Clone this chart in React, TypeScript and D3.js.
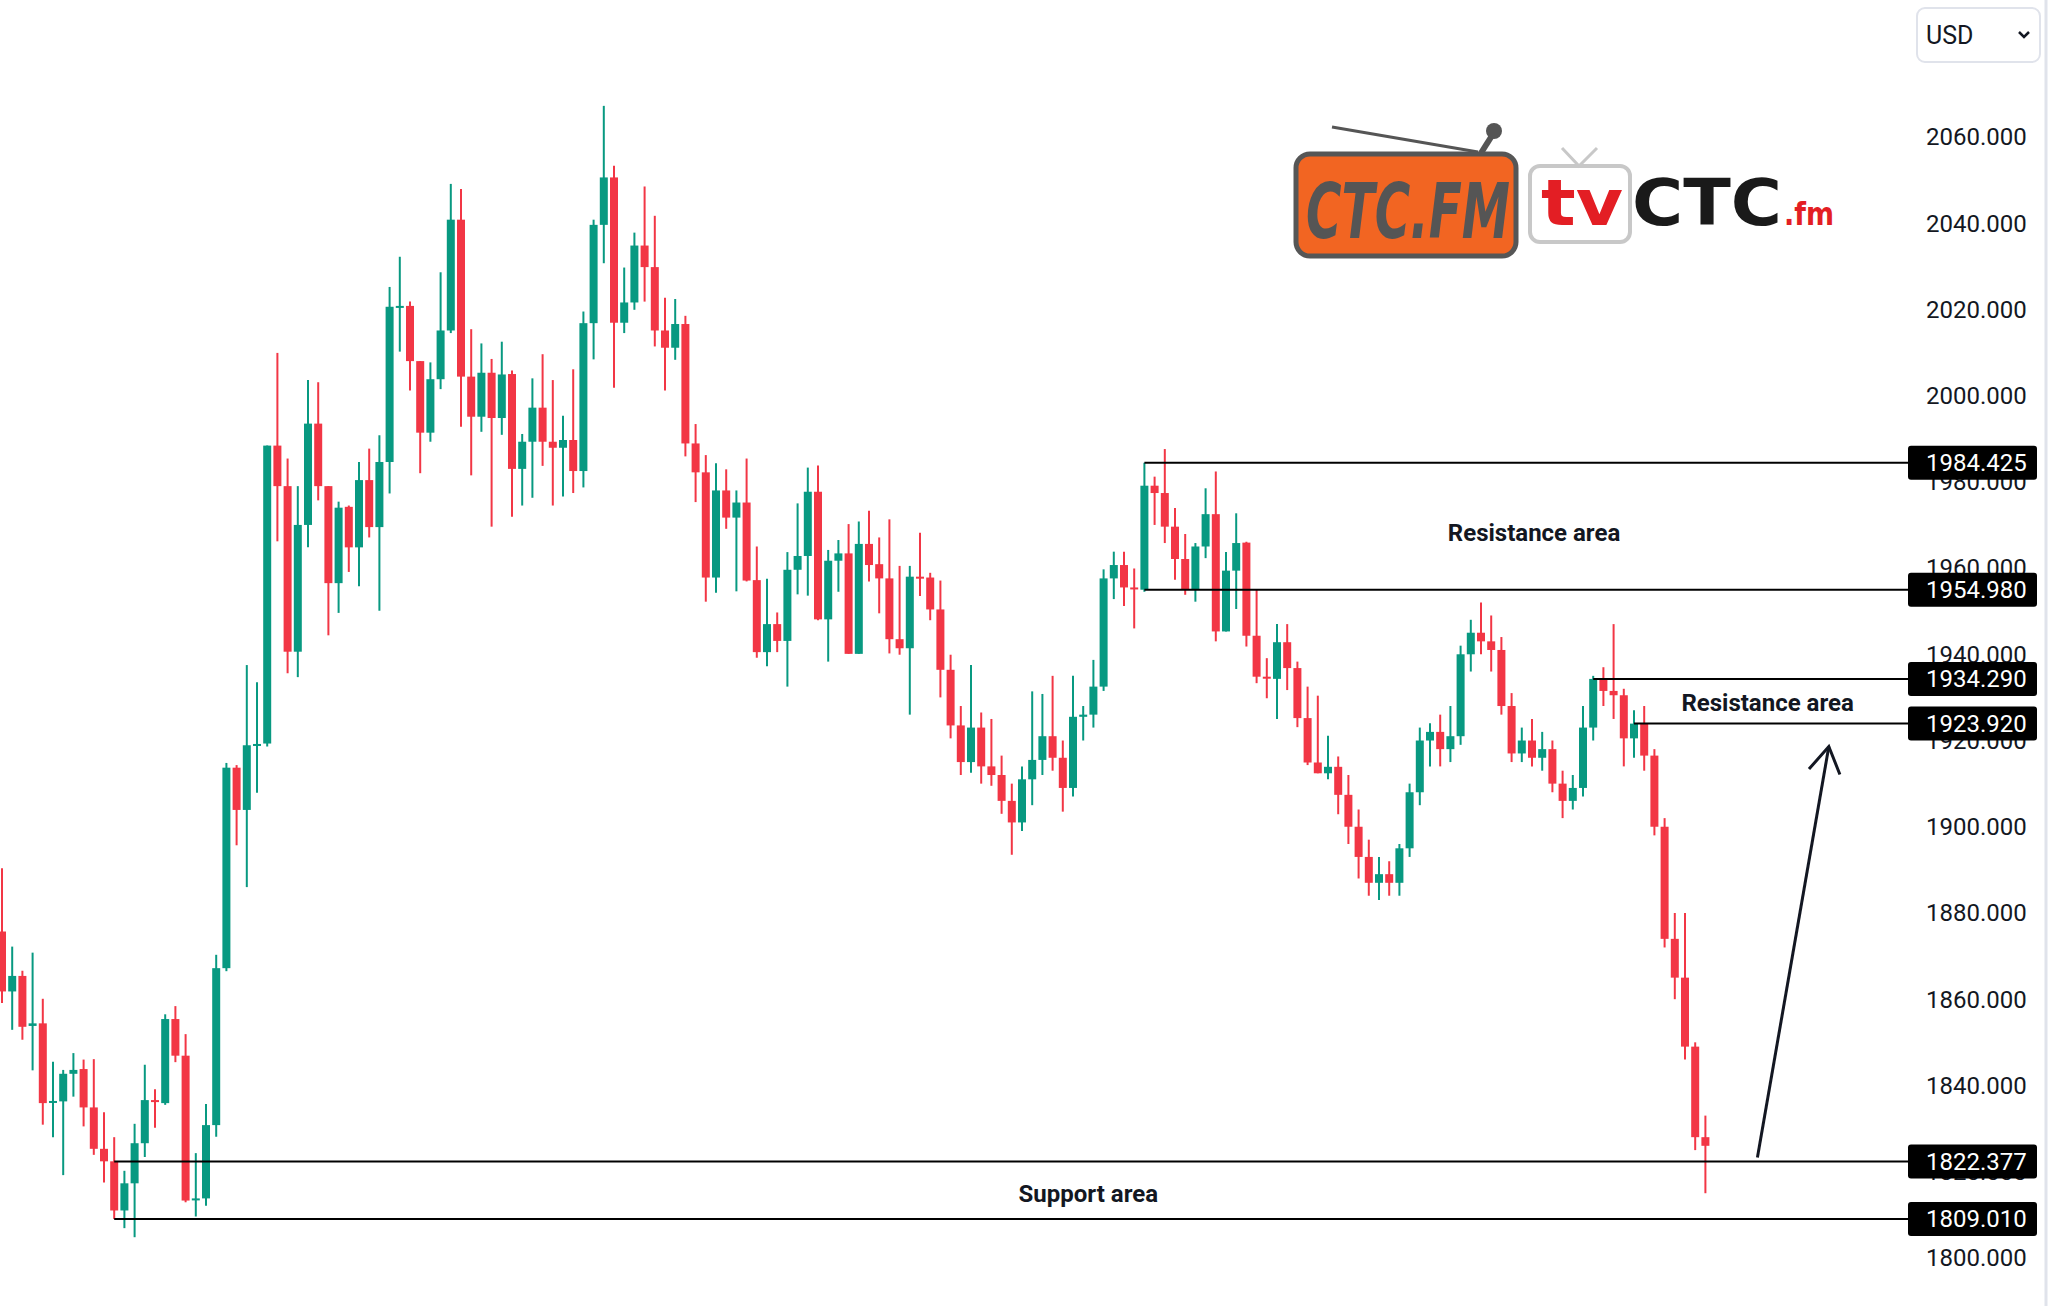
import { useRef, useEffect } from "react";
import * as d3 from "d3";

const W = 2048;
const H = 1306;

// candle data (index = bar number)
const opens = [
  1875.7, 1861.8, 1865.4, 1853.8, 1854.4, 1836.0, 1836.3, 1842.7, 1843.8, 1834.9,
  1825.3, 1822.4, 1811.0, 1817.3, 1826.6, 1836.6, 1835.9, 1855.4, 1846.9, 1813.4,
  1813.8, 1830.8, 1867.2, 1913.7, 1903.9, 1918.9, 1919.3, 1988.4, 1979.0, 1940.6,
  1970.0, 1993.5, 1979.0, 1956.5, 1974.2, 1964.8, 1980.4, 1969.5, 1984.6, 2020.6,
  2020.8, 2008.0, 1991.4, 2003.8, 2015.1, 2040.8, 2004.4, 1995.1, 2005.3, 1994.8,
  2005.0, 1983.0, 1989.3, 1997.2, 1989.3, 1987.9, 1989.7, 1982.5, 2016.8, 2039.6,
  2050.6, 2016.9, 2021.6, 2034.8, 2029.8, 2015.1, 2011.1, 2016.6, 1988.9, 1982.2,
  1957.8, 1978.0, 1971.7, 1975.2, 1957.2, 1940.5, 1947.0, 1943.1, 1959.6, 1962.8,
  1977.7, 1948.1, 1961.7, 1963.4, 1940.1, 1965.6, 1960.9, 1957.6, 1943.5, 1941.4,
  1958.0, 1957.8, 1950.4, 1936.4, 1923.5, 1915.0, 1923.0, 1914.0, 1912.0, 1906.0,
  1901.0, 1911.0, 1915.5, 1921.0, 1916.0, 1909.0, 1925.5, 1926.0, 1932.5, 1957.6,
  1960.7, 1955.5, 1954.98, 1979.1, 1977.4, 1969.6, 1962.1, 1954.9, 1965.0, 1972.5,
  1945.3, 1959.4, 1965.9, 1944.3, 1934.8, 1934.3, 1942.8, 1936.8, 1925.2, 1914.9,
  1912.4, 1913.9, 1907.4, 1900.0, 1893.0, 1887.0, 1889.0, 1887.0, 1895.0, 1908.0,
  1920.0, 1922.0, 1918.0, 1921.0, 1940.0, 1945.0, 1943.0, 1941.0, 1928.0, 1917.0,
  1920.0, 1916.0, 1918.0, 1910.0, 1906.0, 1909.0, 1923.0, 1934.29, 1931.5, 1930.5,
  1920.5, 1923.92, 1916.5, 1900.0, 1874.0, 1865.0, 1849.0, 1828.0,
];
const highs = [
  1890.4, 1872.2, 1866.6, 1870.8, 1860.1, 1845.5, 1843.6, 1847.5, 1846.0, 1846.1,
  1833.8, 1828.0, 1820.2, 1831.1, 1844.8, 1839.1, 1856.5, 1858.4, 1851.9, 1824.3,
  1835.7, 1870.3, 1914.8, 1914.3, 1937.5, 1933.5, 1988.4, 2009.9, 1985.4, 1979.0,
  2003.6, 2003.1, 1979.0, 1975.4, 1974.5, 1984.6, 1987.7, 1990.8, 2025.2, 2032.2,
  2021.8, 2008.0, 2007.7, 2028.6, 2049.1, 2047.9, 2015.4, 2012.1, 2008.5, 2012.5,
  2005.8, 1991.1, 2004.0, 2009.6, 2003.6, 1995.3, 2006.1, 2019.5, 2040.8, 2067.2,
  2053.3, 2029.7, 2037.8, 2048.5, 2041.7, 2022.7, 2022.4, 2018.5, 1993.4, 1986.2,
  1984.3, 1982.9, 1978.0, 1985.4, 1965.0, 1957.5, 1949.7, 1963.7, 1975.0, 1983.3,
  1983.8, 1964.2, 1966.5, 1970.2, 1970.8, 1973.3, 1967.1, 1971.3, 1960.5, 1960.5,
  1968.2, 1958.9, 1957.1, 1939.9, 1928.0, 1937.5, 1926.5, 1925.0, 1916.5, 1910.0,
  1914.0, 1931.4, 1930.8, 1935.0, 1920.0, 1935.0, 1928.0, 1938.7, 1959.7, 1963.8,
  1963.8, 1959.9, 1984.425, 1981.2, 1987.6, 1973.9, 1967.9, 1965.8, 1978.5, 1982.4,
  1963.7, 1972.7, 1966.1, 1955.1, 1939.1, 1947.0, 1947.0, 1938.3, 1932.5, 1930.4,
  1921.1, 1916.3, 1912.0, 1904.0, 1897.0, 1893.0, 1892.0, 1896.0, 1910.0, 1923.0,
  1924.0, 1926.0, 1928.0, 1942.0, 1948.0, 1952.0, 1949.0, 1944.0, 1931.0, 1923.0,
  1925.0, 1922.0, 1920.0, 1913.0, 1912.0, 1928.0, 1935.0, 1937.0, 1947.0, 1932.0,
  1927.0, 1928.0, 1918.0, 1902.0, 1880.0, 1880.0, 1850.0, 1833.0,
];
const lows = [
  1859.1, 1852.9, 1850.6, 1843.5, 1830.9, 1828.0, 1819.2, 1837.4, 1830.5, 1823.9,
  1817.5, 1809.01, 1806.9, 1804.8, 1823.4, 1830.2, 1835.5, 1845.4, 1812.9, 1809.6,
  1812.1, 1828.1, 1866.5, 1895.7, 1886.0, 1907.9, 1918.6, 1966.2, 1935.6, 1934.7,
  1964.8, 1975.7, 1944.4, 1949.6, 1959.1, 1955.8, 1967.1, 1950.1, 1977.3, 2010.2,
  2001.2, 1982.0, 1989.3, 2001.5, 2014.5, 1992.8, 1981.5, 1991.6, 1969.6, 1990.9,
  1971.9, 1974.5, 1976.3, 1983.7, 1974.5, 1976.6, 1977.4, 1978.7, 2008.4, 2030.7,
  2001.8, 2014.5, 2019.9, 2021.8, 2011.4, 2001.2, 2008.3, 1985.9, 1975.3, 1952.2,
  1954.3, 1969.1, 1954.6, 1956.9, 1939.2, 1937.2, 1940.5, 1932.5, 1953.9, 1953.6,
  1947.9, 1938.3, 1954.5, 1940.1, 1940.1, 1956.9, 1949.5, 1940.2, 1939.9, 1926.0,
  1953.5, 1947.9, 1930.0, 1920.5, 1912.0, 1912.5, 1910.0, 1909.5, 1903.0, 1893.5,
  1899.0, 1905.0, 1912.0, 1913.0, 1903.5, 1907.0, 1920.0, 1923.0, 1931.5, 1952.8,
  1951.2, 1946.0, 1954.5, 1970.0, 1965.8, 1957.3, 1953.8, 1952.2, 1962.3, 1943.0,
  1945.3, 1950.5, 1941.8, 1933.3, 1929.8, 1925.0, 1931.7, 1923.1, 1914.3, 1912.4,
  1911.0, 1902.9, 1896.0, 1888.0, 1884.0, 1883.0, 1884.0, 1884.0, 1893.0, 1905.0,
  1914.0, 1914.0, 1915.0, 1919.0, 1936.0, 1940.0, 1936.0, 1926.0, 1915.0, 1915.0,
  1914.0, 1913.0, 1908.0, 1902.0, 1904.0, 1907.0, 1920.0, 1928.0, 1925.0, 1914.0,
  1916.0, 1913.0, 1898.0, 1872.0, 1860.0, 1846.0, 1825.0, 1815.0,
];
const closes = [
  1861.8, 1865.4, 1853.6, 1854.4, 1835.9, 1836.4, 1842.7, 1843.6, 1834.9, 1825.3,
  1822.4, 1811.0, 1817.3, 1826.6, 1836.6, 1836.2, 1855.4, 1846.9, 1813.3, 1813.8,
  1830.8, 1867.2, 1913.7, 1903.9, 1918.9, 1919.2, 1988.4, 1979.0, 1940.6, 1970.0,
  1993.5, 1979.0, 1956.5, 1974.0, 1964.8, 1980.4, 1969.5, 1984.6, 2020.6, 2020.8,
  2008.0, 1991.4, 2003.8, 2015.1, 2040.8, 2004.4, 1995.1, 2005.3, 1994.8, 2004.9,
  1983.0, 1989.3, 1997.2, 1989.3, 1987.9, 1989.7, 1982.5, 2016.8, 2039.6, 2050.6,
  2016.9, 2021.6, 2034.8, 2029.8, 2015.1, 2011.1, 2016.6, 1988.9, 1982.2, 1957.8,
  1978.0, 1971.7, 1975.2, 1957.1, 1940.5, 1947.0, 1943.1, 1959.6, 1962.8, 1977.7,
  1948.1, 1961.7, 1963.4, 1940.1, 1965.6, 1960.7, 1957.6, 1943.5, 1941.4, 1958.0,
  1957.6, 1950.4, 1936.4, 1923.5, 1915.0, 1923.0, 1914.0, 1912.0, 1906.0, 1901.0,
  1911.0, 1915.5, 1921.0, 1916.0, 1909.0, 1925.5, 1926.0, 1932.5, 1957.6, 1960.7,
  1955.5, 1955.2, 1979.1, 1977.4, 1969.6, 1962.1, 1954.9, 1965.0, 1972.5, 1945.3,
  1959.4, 1965.8, 1944.3, 1934.8, 1934.4, 1942.8, 1936.8, 1925.2, 1914.9, 1912.4,
  1913.9, 1907.4, 1900.0, 1893.0, 1887.0, 1889.0, 1887.0, 1895.0, 1908.0, 1920.0,
  1922.0, 1918.0, 1921.0, 1940.0, 1945.0, 1943.0, 1941.0, 1928.0, 1917.0, 1920.0,
  1916.0, 1918.0, 1910.0, 1906.0, 1909.0, 1923.0, 1934.29, 1931.5, 1930.5, 1920.5,
  1923.92, 1916.5, 1900.0, 1874.0, 1865.0, 1849.0, 1828.0, 1826.0,
];

const yTicks = d3.range(1800, 2061, 20);

// horizontal levels and the bar each one starts at
const levels = [1984.425, 1954.98, 1934.29, 1923.92, 1822.377, 1809.01];
const levelStartBar = [112, 112, 156, 160, 11, 11];

// zone captions: text, bar position, price at the caption centre
const zoneNames = ["Resistance area", "Resistance area", "Support area"];
const zoneBars = [150.2, 173.1, 106.5];
const zonePrices = [1968.2, 1928.8, 1814.8];

// arrow in (bar, price)
const arrowFrom = [172.1, 1823.3];
const arrowTo = [179.1, 1918.6];

const GREEN = "#089981";
const RED = "#f23645";
const TEXT = "#131722";

function drawLogo(svg: any) {
  const g = svg.append("g").attr("class", "logo");
  // radio antenna
  g.append("line").attr("x1", 1332).attr("y1", 127).attr("x2", 1478).attr("y2", 152)
    .attr("stroke", "#555").attr("stroke-width", 3);
  g.append("line").attr("x1", 1481).attr("y1", 153).attr("x2", 1493).attr("y2", 134)
    .attr("stroke", "#555").attr("stroke-width", 6);
  g.append("circle").attr("cx", 1494).attr("cy", 131).attr("r", 8).attr("fill", "#555");
  g.append("rect").attr("x", 1296).attr("y", 154).attr("width", 220).attr("height", 102)
    .attr("rx", 14).attr("fill", "#f26522").attr("stroke", "#565656").attr("stroke-width", 5);
  g.append("text").attr("x", 1306).attr("y", 238).attr("textLength", 204)
    .attr("lengthAdjust", "spacingAndGlyphs")
    .style("font-family", "'DejaVu Sans', sans-serif").style("font-weight", 700)
    .style("font-style", "oblique").style("font-size", "76px").attr("fill", "#555")
    .text("CTC.FM");
  // tv frame
  g.append("polyline").attr("points", "1562,148 1579,166 1597,148")
    .attr("fill", "none").attr("stroke", "#c8c8c8").attr("stroke-width", 3);
  g.append("rect").attr("x", 1530).attr("y", 166).attr("width", 100).attr("height", 76)
    .attr("rx", 10).attr("fill", "none").attr("stroke", "#c8c8c8").attr("stroke-width", 4);
  const font = "'DejaVu Sans', sans-serif";
  g.append("text").attr("x", 1541).attr("y", 225).attr("textLength", 82)
    .attr("lengthAdjust", "spacingAndGlyphs")
    .style("font-family", font).style("font-weight", 700).style("font-size", "64px")
    .attr("fill", "#e31e24").text("tv");
  g.append("text").attr("x", 1632).attr("y", 225).attr("textLength", 150)
    .attr("lengthAdjust", "spacingAndGlyphs")
    .style("font-family", font).style("font-weight", 700).style("font-size", "64px")
    .attr("fill", "#1a1a1a").text("CTC");
  g.append("text").attr("x", 1784).attr("y", 225).attr("textLength", 50)
    .attr("lengthAdjust", "spacingAndGlyphs")
    .style("font-family", font).style("font-weight", 700).style("font-size", "32px")
    .attr("fill", "#e31e24").text(".fm");
}

export default function App() {
  const svgRef = useRef<SVGSVGElement | null>(null);

  useEffect(() => {
    if (!svgRef.current) return;
    document.body.style.margin = "0";

    const svg = d3.select(svgRef.current);
    svg.selectAll("*").remove();

    const n = closes.length;
    const xScale = d3.scaleLinear().domain([0, n - 1]).range([2, 2 + 10.2 * (n - 1)]);
    const yScale = d3.scaleLinear().domain([1800, 2060]).range([1257.9, 136.9]);
    const bodyW = 8;
    const axisLeft = 1908;

    svg.append("rect").attr("width", W).attr("height", H).attr("fill", "#ffffff");

    drawLogo(svg);

    // price axis labels
    svg.append("g").attr("class", "y-labels")
      .selectAll("text").data(yTicks).join("text")
      .attr("x", 1926).attr("y", (d: number) => yScale(d)).attr("dy", "0.35em")
      .attr("fill", TEXT)
      .style("font-family", "Roboto, sans-serif").style("font-size", "24px")
      .text((d: number) => d3.format(".3f")(d));

    // candles
    const idx = d3.range(n);
    const candles = svg.append("g").attr("class", "candles");
    candles.selectAll("line").data(idx).join("line")
      .attr("x1", (i: number) => xScale(i)).attr("x2", (i: number) => xScale(i))
      .attr("y1", (i: number) => yScale(highs[i])).attr("y2", (i: number) => yScale(lows[i]))
      .attr("stroke", (i: number) => (closes[i] >= opens[i] ? GREEN : RED))
      .attr("stroke-width", 2);
    candles.selectAll("rect").data(idx).join("rect")
      .attr("x", (i: number) => xScale(i) - bodyW / 2)
      .attr("width", bodyW)
      .attr("y", (i: number) => yScale(Math.max(opens[i], closes[i])))
      .attr("height", (i: number) => Math.max(2, Math.abs(yScale(opens[i]) - yScale(closes[i]))))
      .attr("fill", (i: number) => (closes[i] >= opens[i] ? GREEN : RED));

    // levels
    const lv = svg.append("g").attr("class", "levels");
    lv.selectAll("line").data(levels).join("line")
      .attr("x1", (d: number, k: number) => xScale(levelStartBar[k]))
      .attr("x2", axisLeft)
      .attr("y1", (d: number) => yScale(d)).attr("y2", (d: number) => yScale(d))
      .attr("stroke", "#000").attr("stroke-width", 2);

    // zone captions
    svg.append("g").attr("class", "zones")
      .selectAll("text").data(zoneNames).join("text")
      .attr("x", (d: string, k: number) => xScale(zoneBars[k]))
      .attr("y", (d: string, k: number) => yScale(zonePrices[k]))
      .attr("dy", "0.35em").attr("text-anchor", "middle").attr("fill", TEXT)
      .style("font-family", "Roboto, sans-serif").style("font-weight", 700)
      .style("font-size", "24px")
      .text((d: string) => d);

    // arrow
    const ax = xScale(arrowTo[0]);
    const ay = yScale(arrowTo[1]);
    const bx = xScale(arrowFrom[0]);
    const by = yScale(arrowFrom[1]);
    svg.append("line").attr("x1", bx).attr("y1", by).attr("x2", ax).attr("y2", ay)
      .attr("stroke", TEXT).attr("stroke-width", 3);
    const ang = Math.atan2(ay - by, ax - bx);
    const head = 30;
    const spread = 0.55;
    const p1 = [ax - head * Math.cos(ang - spread), ay - head * Math.sin(ang - spread)];
    const p2 = [ax - head * Math.cos(ang + spread), ay - head * Math.sin(ang + spread)];
    svg.append("polyline")
      .attr("points", `${p1[0]},${p1[1]} ${ax},${ay} ${p2[0]},${p2[1]}`)
      .attr("fill", "none").attr("stroke", TEXT).attr("stroke-width", 3)
      .attr("stroke-linejoin", "miter");

    // level price tags (drawn over the axis labels, as in the source)
    const tags = svg.append("g").attr("class", "tags");
    tags.selectAll("rect").data(levels).join("rect")
      .attr("x", axisLeft).attr("width", 129)
      .attr("y", (d: number) => yScale(d) - 17).attr("height", 34)
      .attr("rx", 3).attr("fill", "#000");
    tags.selectAll("text").data(levels).join("text")
      .attr("x", 1926).attr("y", (d: number) => yScale(d)).attr("dy", "0.35em")
      .attr("fill", "#fff")
      .style("font-family", "Roboto, sans-serif").style("font-size", "24px")
      .text((d: number) => d3.format(".3f")(d));

    // currency selector
    svg.append("rect").attr("x", 1917).attr("y", 8).attr("width", 123).attr("height", 54)
      .attr("rx", 8).attr("fill", "#fff").attr("stroke", "#e0e3eb").attr("stroke-width", 2);
    svg.append("text").attr("x", 1926).attr("y", 35).attr("dy", "0.35em").attr("fill", TEXT)
      .style("font-family", "Roboto, sans-serif").style("font-size", "25px").text("USD");
    svg.append("polyline").attr("points", "2019,32 2024,37 2029,32")
      .attr("fill", "none").attr("stroke", TEXT).attr("stroke-width", 2.5);

    // right edge
    svg.append("line").attr("x1", 2046).attr("x2", 2046).attr("y1", 0).attr("y2", H)
      .attr("stroke", "#e0e3eb").attr("stroke-width", 3);
  }, []);

  return (
    <div style={{ position: "absolute", left: 0, top: 0, width: W, height: H }}>
      <svg ref={svgRef} width={W} height={H} style={{ display: "block" }} />
    </div>
  );
}
